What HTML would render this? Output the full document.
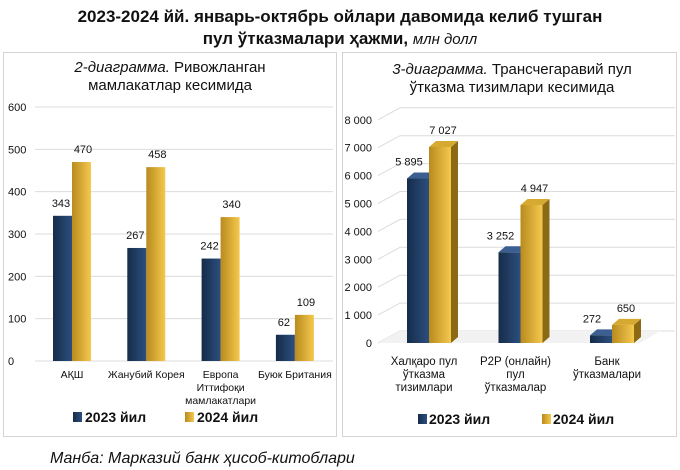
<!DOCTYPE html>
<html><head><meta charset="utf-8"><style>
body{margin:0;background:#fff;width:680px;height:470px;overflow:hidden;font-family:"Liberation Sans",sans-serif}
svg{display:block}
</style></head><body>
<svg width="680" height="470" xmlns="http://www.w3.org/2000/svg">
<defs>
<linearGradient id="navy" x1="0" x2="1"><stop offset="0" stop-color="#162c4a"/><stop offset="1" stop-color="#2c4f7e"/></linearGradient>
<linearGradient id="gold" x1="0" x2="1"><stop offset="0" stop-color="#b98a1e"/><stop offset="1" stop-color="#f4c94e"/></linearGradient>
</defs>
<text x="340" y="22" text-anchor="middle" font-size="17" font-weight="bold" fill="#111">2023-2024 йй. январь-октябрь ойлари давомида келиб тушган</text>
<text x="340" y="44" text-anchor="middle" font-size="17" font-weight="bold" fill="#111">пул ўтказмалари ҳажми, <tspan font-style="italic" font-weight="normal" font-size="15">млн долл</tspan></text>
<rect x="3.5" y="52.5" width="333" height="384" fill="#fff" stroke="#d4d4d4"/>
<rect x="342.5" y="52.5" width="334" height="384" fill="#fff" stroke="#d4d4d4"/>
<text x="170" y="72" text-anchor="middle" font-size="15" fill="#111"><tspan font-style="italic">2-диаграмма.</tspan> Ривожланган</text>
<text x="170" y="90" text-anchor="middle" font-size="15" fill="#111">мамлакатлар кесимида</text>
<text x="512" y="74" text-anchor="middle" font-size="15" fill="#111"><tspan font-style="italic">3-диаграмма.</tspan> Трансчегаравий пул</text>
<text x="512" y="92" text-anchor="middle" font-size="15" fill="#111">ўтказма тизимлари кесимида</text>
<g id="left"></g><g id="right"></g>
<g>
<rect x="73" y="412" width="9" height="10" fill="url(#navy)"/>
<text x="85" y="422" font-size="14" font-weight="bold" fill="#111">2023 йил</text>
<rect x="185" y="412" width="9" height="10" fill="url(#gold)"/>
<text x="197" y="422" font-size="14" font-weight="bold" fill="#111">2024 йил</text>
</g>
<g>
<rect x="418" y="414" width="9" height="10" fill="url(#navy)"/>
<text x="429" y="424" font-size="14" font-weight="bold" fill="#111">2023 йил</text>
<rect x="542" y="414" width="9" height="10" fill="url(#gold)"/>
<text x="553" y="424" font-size="14" font-weight="bold" fill="#111">2024 йил</text>
</g>
<text x="50" y="463" font-size="16" font-style="italic" fill="#111">Манба: Марказий банк ҳисоб-китоблари</text>
</svg>
<script>
const NS="http://www.w3.org/2000/svg";
const leftCats=[["АҚШ"],["Жанубий Корея"],["Европа","Иттифоқи","мамлакатлари"],["Буюк Британия"]];
const left2023=[343,267,242,62];
const left2024=[470,458,340,109];
const leftTicks=[0,100,200,300,400,500,600];
const rightCats=[["Халқаро пул","ўтказма","тизимлари"],["P2P (онлайн)","пул","ўтказмалар"],["Банк","ўтказмалари"]];
const right2023=[5895,3252,272];
const right2024=[7027,4947,650];
const rightTicks=[0,1000,2000,3000,4000,5000,6000,7000,8000];
function mk(p,tag,a,t){const e=document.createElementNS(NS,tag);for(const k in a)e.setAttribute(k,a[k]);if(t!=null)e.textContent=t;p.appendChild(e);return e;}
function fmt(v){return String(v).replace(/\B(?=(\d{3})+(?!\d))/g," ");}
const L=document.getElementById('left');
const ly=v=>361-v*254/600, lx=i=>72+i*74.3;
leftTicks.forEach(t=>{
 const g=mk(L,'line',{x1:35,x2:333,y1:ly(t),y2:ly(t),stroke:'#dcdcdc'});
 
 const tx=mk(L,'text',{x:8,y:ly(t)+4,'font-size':11,fill:'#111'},t);
 
});
leftCats.forEach((c,i)=>{
 const cx=lx(i);
 [[left2023[i],-19,'url(#navy)','bar-2023',8],[left2024[i],0,'url(#gold)','bar-2024',11]].forEach(([v,o,f,n,lo])=>{
  const r=mk(L,'rect',{x:cx+o,y:ly(v),width:19,height:ly(0)-ly(v),fill:f});
  
  const t=mk(L,'text',{x:cx+o+lo,y:ly(v)-9,'text-anchor':'middle','font-size':11,fill:'#111'},v);
  
 });
 c.forEach((s,j)=>{const t=mk(L,'text',{x:cx,y:378+j*13,'text-anchor':'middle','font-size':10.5,fill:'#111'},s);
  });
});
const R=document.getElementById('right');
const ry=v=>343-v*27.9/1000, rx=i=>429+i*91.5;
rightTicks.forEach(t=>{
 const y=ry(t);
 const p=mk(R,'polyline',{points:`378,${y} 400,${y-12} 675,${y-12}`,fill:'none',stroke:'#dcdcdc'});
 
 const tx=mk(R,'text',{x:372,y:y+4,'text-anchor':'end','font-size':11,fill:'#111'},fmt(t));
 
});
const base=mk(R,'polygon',{points:'378,343 400,331 660,331 640,343',fill:'#f2f2f2'});

rightCats.forEach((c,i)=>{
 const cx=rx(i);
 [[right2023[i],-22,'url(#navy)','#0f2038','#3a5f90','bar-2023',2],[right2024[i],0,'url(#gold)','#8c6a14','#d6a931','bar-2024',14]].forEach(([v,o,f,side,top,n,lo])=>{
  const x0=cx+o,x1=x0+22,y=ry(v),yb=ry(0),dx=7,dy=6;
  const s=mk(R,'polygon',{points:`${x1},${y} ${x1+dx},${y-dy} ${x1+dx},${yb-dy} ${x1},${yb}`,fill:side});
  
  const tp=mk(R,'polygon',{points:`${x0},${y} ${x0+dx},${y-dy} ${x1+dx},${y-dy} ${x1},${y}`,fill:top});
  
  const r=mk(R,'rect',{x:x0,y:y,width:22,height:yb-y,fill:f});
  
  const t=mk(R,'text',{x:x0+lo,y:y-13,'text-anchor':'middle','font-size':11,fill:'#111'},fmt(v));
  
 });
 c.forEach((s,j)=>{const t=mk(R,'text',{x:cx-5,y:365+j*13,'text-anchor':'middle','font-size':11.5,fill:'#111'},s);
  });
});
</script>
</body></html>
